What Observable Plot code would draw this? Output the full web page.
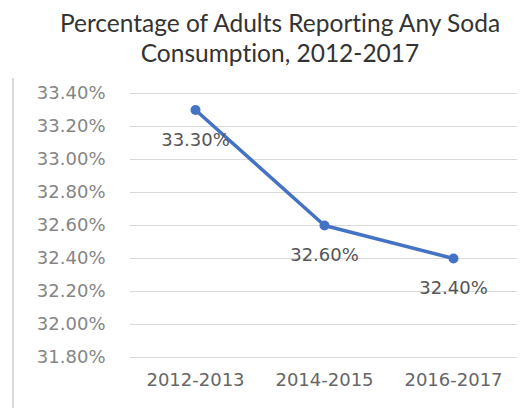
<!DOCTYPE html>
<html>
<head>
<meta charset="utf-8">
<script src="https://cdn.jsdelivr.net/npm/d3@7"></script>
<script src="https://cdn.jsdelivr.net/npm/@observablehq/plot@0.6"></script>
<style>
  html, body { margin: 0; padding: 0; background: #fff; }
  #chart { position: relative; width: 523px; height: 408px; overflow: hidden; }
  #edge { position: absolute; left: 12px; top: 78px; width: 2px; height: 330px; background: #d9d9d9; }
  #title {
    position: absolute; left: 34px; width: 492px; top: 8px;
    text-align: center; font-family: Lato, "Open Sans", sans-serif;
    font-size: 24.5px; line-height: 30px; color: #333;
    font-variant-ligatures: none;
  }
  #plot { position: absolute; left: 0; top: 80px; }
</style>
</head>
<body>
<div id="chart">
  <div id="edge"></div>
  <div id="title">Percentage of Adults Reporting Any Soda<br>Consumption, 2012-2017</div>
  <div id="plot"></div>
</div>
<script>
// Survey periods and share of adults reporting any soda consumption (%)
const periods = ["2012-2013", "2014-2015", "2016-2017"];
const shares = [33.3, 32.6, 32.4];
const yTicks = [31.8, 32.0, 32.2, 32.4, 32.6, 32.8, 33.0, 33.2, 33.4];

const rows = periods.map((p, i) => ({period: p, share: shares[i]}));
const pct = v => v.toFixed(2) + "%";

const chart = Plot.plot({
  width: 523,
  height: 328,
  marginTop: 13,
  marginBottom: 51,
  marginLeft: 130,
  marginRight: 6,
  style: {fontFamily: "DejaVu Sans, sans-serif", background: "transparent"},
  x: {type: "point", domain: periods, padding: 0.5, label: null},
  y: {domain: [31.8, 33.4], label: null},
  marks: [
    Plot.ruleY(yTicks, {stroke: "#d9d9d9", strokeWidth: 1}),
    Plot.axisY(yTicks, {
      tickSize: 0, tickPadding: 0, dx: -25, tickFormat: pct,
      fill: "#858585", fontSize: 18, label: null,
      style: {letterSpacing: "1px"}
    }),
    Plot.axisX(periods, {
      tickSize: 0, tickPadding: 16, fill: "#666", fontSize: 18,
      label: null, style: {letterSpacing: "1.5px"}
    }),
    Plot.line(rows, {x: "period", y: "share", stroke: "#4472c4", strokeWidth: 3.5}),
    Plot.dot(rows, {x: "period", y: "share", r: 5, fill: "#4472c4"}),
    Plot.text(rows, {
      x: "period", y: "share", text: d => pct(d.share), dy: 30,
      fill: "#555", fontSize: 18, style: {letterSpacing: "0.8px"}
    })
  ]
});
document.getElementById("plot").appendChild(chart);
</script>
</body>
</html>
